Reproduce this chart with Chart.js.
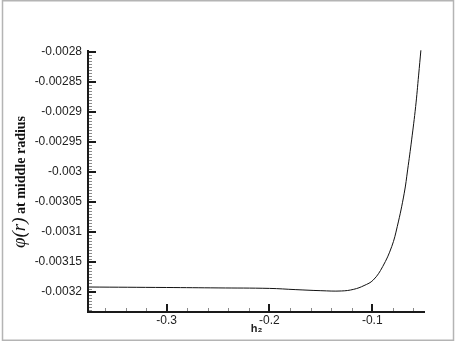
<!DOCTYPE html>
<html>
<head>
<meta charset="utf-8">
<script src="https://cdn.jsdelivr.net/npm/chart.js@4"></script>
<style>
  html, body { margin: 0; padding: 0; background: #fff; }
  #wrap { width: 461px; height: 344px; }
</style>
</head>
<body>
<div id="wrap"><canvas id="phiChart" width="461" height="344"></canvas></div>
<script>
const phiCtx = document.getElementById("phiChart");

// curve: h2 vs phi(r) at middle radius
const hValues = [-0.3765, -0.3, -0.25, -0.2, -0.175, -0.15, -0.13, -0.118, -0.108, -0.099, -0.0899, -0.0811, -0.0757, -0.0689, -0.0656, -0.0617, -0.0578, -0.0549, -0.0527];
const phiValues = [-0.0031917, -0.0031925, -0.0031932, -0.003194, -0.003196, -0.0031978, -0.0031983, -0.0031955, -0.0031893, -0.00318, -0.0031578, -0.0031245, -0.0030912, -0.0030355, -0.0029967, -0.0029467, -0.0028912, -0.0028388, -0.0027975];

const xTickLabels = ["-0.3", "-0.2", "-0.1"];
const yTickLabels = ["-0.0028", "-0.00285", "-0.0029", "-0.00295", "-0.003", "-0.00305", "-0.0031", "-0.00315", "-0.0032"];

const xRange = [-0.3765, -0.0487];
const yRange = [-0.0032333, -0.002797];
const xMinorStep = 0.02;
const yMinorStep = 0.000005;

const axisColor = "#1a1a1a";
const tickFont = { family: "'Liberation Sans', Arial, sans-serif", size: 12 };

// axis lines, inward tick marks, frame and the mixed-font y title
const axesPlugin = {
  id: "axesPlugin",
  beforeDraw: (chart) => {
    const ctx = chart.ctx;
    ctx.save();
    ctx.strokeStyle = "#b4b4b4";
    ctx.lineWidth = 1.5;
    ctx.strokeRect(2.5, 0.75, 451, 339.5);
    ctx.restore();
  },
  afterDraw: (chart) => {
    const ctx = chart.ctx;
    const { left, right, top, bottom } = chart.chartArea;
    const xs = chart.scales.x;
    const ys = chart.scales.y;
    ctx.save();

    // minor ticks
    ctx.strokeStyle = "#8a8a8a";
    ctx.lineWidth = 1;
    ctx.beginPath();
    for (let k = Math.ceil(xRange[0] / xMinorStep); k * xMinorStep <= xRange[1]; k++) {
      const px = Math.round(xs.getPixelForValue(k * xMinorStep)) + 0.5;
      ctx.moveTo(px, bottom);
      ctx.lineTo(px, bottom - 4);
    }
    for (let k = Math.ceil(yRange[0] / yMinorStep); k * yMinorStep <= yRange[1] + 1e-12; k++) {
      const py = Math.round(ys.getPixelForValue(k * yMinorStep)) + 0.5;
      ctx.moveTo(left, py);
      ctx.lineTo(left + 4, py);
    }
    ctx.stroke();

    // major ticks
    ctx.strokeStyle = axisColor;
    ctx.lineWidth = 2;
    ctx.beginPath();
    xTickLabels.forEach((t) => {
      const px = Math.round(xs.getPixelForValue(Number(t)));
      ctx.moveTo(px, bottom);
      ctx.lineTo(px, bottom - 8);
    });
    yTickLabels.forEach((t) => {
      const py = Math.round(ys.getPixelForValue(Number(t)));
      ctx.moveTo(left, py);
      ctx.lineTo(left + 8, py);
    });
    ctx.stroke();

    // axis lines
    ctx.lineWidth = 2;
    ctx.beginPath();
    ctx.moveTo(left, top);
    ctx.lineTo(left, bottom);
    ctx.lineTo(right, bottom);
    ctx.stroke();

    // y title: italic phi(r) + bold serif text
    ctx.translate(25, 182);
    ctx.rotate(-Math.PI / 2);
    ctx.fillStyle = "#111";
    ctx.textBaseline = "alphabetic";
    const part1 = "\u03C6(r)";
    const part2 = " at middle radius";
    const font1 = "italic 19px 'Liberation Serif', 'Times New Roman', serif";
    const font2 = "bold 14px 'Liberation Serif', 'Times New Roman', serif";
    ctx.font = font1;
    const w1 = ctx.measureText(part1).width;
    ctx.font = font2;
    const w2 = ctx.measureText(part2).width;
    const start = -(w1 + w2) / 2;
    ctx.font = font1;
    ctx.fillText(part1, start, 0);
    ctx.font = font2;
    ctx.fillText(part2, start + w1, 0);
    ctx.restore();
  },
};

const buildPhiChart = () => {
  if (!phiCtx) {
    return;
  }

  new Chart(phiCtx, {
    type: "line",
    data: {
      datasets: [
        {
          label: "phi",
          data: hValues.map((h, i) => ({ x: h, y: phiValues[i] })),
          borderColor: "#111",
          borderWidth: 1,
          pointRadius: 0,
          tension: 0.4,
          fill: false,
        },
      ],
    },
    options: {
      responsive: false,
      animation: false,
      layout: { padding: { left: 0, right: 36, top: 50, bottom: 0 } },
      plugins: {
        legend: { display: false },
        tooltip: { enabled: false },
      },
      scales: {
        x: {
          type: "linear",
          min: xRange[0],
          max: xRange[1],
          afterBuildTicks: (scale) => {
            scale.ticks = xTickLabels.map((t) => ({ value: Number(t) }));
          },
          afterFit: (scale) => {
            scale.height = 32;
          },
          ticks: {
            color: "#222",
            font: tickFont,
            padding: 1,
            maxRotation: 0,
            callback: (value) => xTickLabels.find((t) => Number(t) === value) || "",
          },
          grid: { display: false, drawTicks: false },
          border: { display: false },
          title: {
            display: true,
            text: "h\u2082",
            color: "#222",
            font: { family: "'Liberation Sans', Arial, sans-serif", size: 11, weight: "bold" },
            padding: { top: 0, bottom: 8 },
          },
        },
        y: {
          type: "linear",
          min: yRange[0],
          max: yRange[1],
          afterBuildTicks: (scale) => {
            scale.ticks = yTickLabels.map((t) => ({ value: Number(t) }));
          },
          afterFit: (scale) => {
            scale.width = 88;
          },
          ticks: {
            color: "#222",
            font: tickFont,
            padding: 6,
            callback: (value) => yTickLabels.find((t) => Number(t) === value) || "",
          },
          grid: { display: false, drawTicks: false },
          border: { display: false },
        },
      },
    },
    plugins: [axesPlugin],
  });
};

document.addEventListener("DOMContentLoaded", () => {
  buildPhiChart();
});
</script>
</body>
</html>
